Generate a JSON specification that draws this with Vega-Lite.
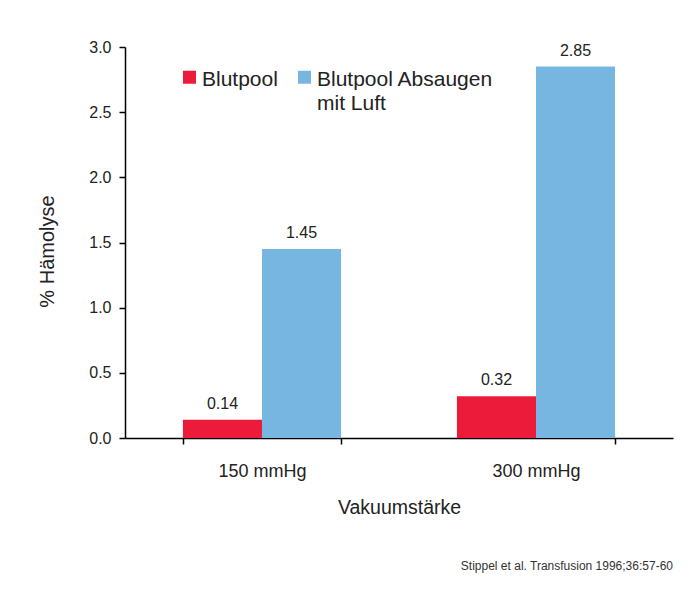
{
  "$schema": "https://vega.github.io/schema/vega-lite/v6.json",
  "autosize": "none",
  "width": 548,
  "height": 391,
  "padding": {"left": 125, "top": 47, "right": 21, "bottom": 159},
  "background": "white",
  "data": {"values": [
    {"vakuum": "150 mmHg", "serie": "Blutpool", "wert": 0.14},
    {"vakuum": "150 mmHg", "serie": "Blutpool Absaugen mit Luft", "wert": 1.45},
    {"vakuum": "300 mmHg", "serie": "Blutpool", "wert": 0.32},
    {"vakuum": "300 mmHg", "serie": "Blutpool Absaugen mit Luft", "wert": 2.85}
  ]},
  "title": {
    "text": "Stippel et al. Transfusion 1996;36:57-60",
    "orient": "bottom",
    "anchor": "end",
    "offset": 44,
    "font": "Liberation Sans",
    "fontSize": 12,
    "fontWeight": "normal",
    "color": "#333333"
  },
  "encoding": {
    "x": {
      "field": "vakuum", "type": "nominal",
      "scale": {"paddingInner": 0.423, "paddingOuter": 0.2115},
      "axis": {
        "title": "Vakuumstärke", "labelAngle": 0, "tickBand": "extent",
        "labelFont": "Liberation Sans", "labelFontSize": 18, "labelColor": "#222222",
        "labelPadding": 18, "titleFont": "Liberation Sans", "titleFontSize": 19.5,
        "titleFontWeight": "normal", "titleColor": "#222222", "titlePadding": 18,
        "domainColor": "#000000", "domainWidth": 1.5, "tickColor": "#000000", "tickWidth": 1.5, "tickSize": 6
      }
    },
    "xOffset": {"field": "serie", "type": "nominal", "sort": ["Blutpool", "Blutpool Absaugen mit Luft"], "scale": {"paddingInner": 0, "paddingOuter": 0}},
    "y": {
      "field": "wert", "type": "quantitative",
      "scale": {"domain": [0, 3], "nice": false},
      "axis": {
        "title": "% Hämolyse", "values": [0, 0.5, 1, 1.5, 2, 2.5, 3], "format": ".1f", "grid": false,
        "labelFont": "Liberation Sans", "labelFontSize": 16, "labelColor": "#222222", "labelPadding": 8,
        "titleFont": "Liberation Sans", "titleFontSize": 20, "titleFontWeight": "normal", "titleColor": "#222222", "titlePadding": 31,
        "titleY": 204,
        "domainColor": "#000000", "domainWidth": 1.5, "tickColor": "#000000", "tickWidth": 1.5, "tickSize": 6
      }
    }
  },
  "layer": [
    {
      "mark": {"type": "bar"},
      "encoding": {
        "color": {
          "field": "serie", "type": "nominal",
          "scale": {"domain": ["Blutpool", "Blutpool Absaugen mit Luft"], "range": ["#ED1B3A", "#78B6E2"]},
          "legend": {
            "title": null, "orient": "none", "legendX": 54, "legendY": 28, "direction": "horizontal", "columns": 2,
            "padding": 0,
            "symbolType": "M-1,-2.31L1,-2.31L1,-0.31L-1,-0.31Z", "symbolSize": 169, "symbolStrokeWidth": 0, "symbolOffset": 0,
            "labelFont": "Liberation Sans", "labelFontSize": 21, "labelColor": "#222222", "labelLimit": 400,
            "labelBaseline": "alphabetic", "labelOffset": 2, "columnPadding": 16,
            "labelExpr": "datum.label == 'Blutpool Absaugen mit Luft' ? ['Blutpool Absaugen', 'mit Luft'] : [datum.label, ' ']"
          }
        }
      }
    },
    {
      "mark": {"type": "text", "baseline": "alphabetic", "dy": -11, "font": "Liberation Sans", "fontSize": 16, "color": "#222222"},
      "encoding": {
        "text": {"field": "wert", "type": "quantitative", "format": ".2f"}
      }
    }
  ],
  "config": {
    "view": {"stroke": null},
    "style": {"guide-label": {"lineHeight": 24}}
  }
}
